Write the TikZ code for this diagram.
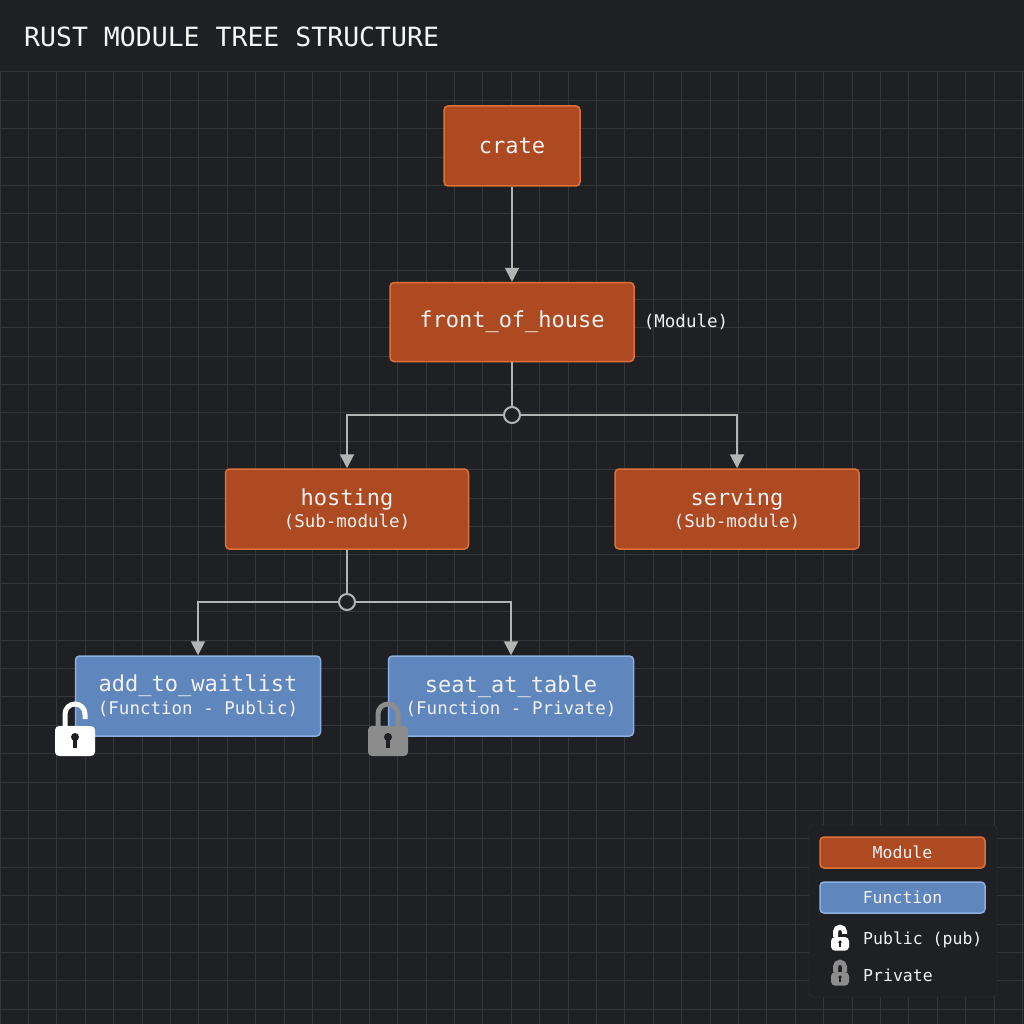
\documentclass[tikz,border=0pt]{standalone}
\usepackage{fontspec}
\setmonofont{DejaVu Sans Mono}
\usetikzlibrary{arrows.meta}
\definecolor{bg}{HTML}{1F2023}
\definecolor{gridc}{HTML}{34373A}
\definecolor{ofill}{HTML}{AE4A22}
\definecolor{oline}{HTML}{E0703A}
\definecolor{bfill}{HTML}{5F86BD}
\definecolor{bline}{HTML}{8DB0E0}
\definecolor{conn}{HTML}{B4B4B4}
\definecolor{txt}{HTML}{F2F2F2}
\definecolor{lockg}{HTML}{8C8C8C}
\tikzset{
  mod/.style={draw=oline,fill=ofill,line width=1.5pt,rounded corners=4pt,text=txt,font=\ttfamily,align=center,inner sep=0pt},
  fun/.style={draw=bline,fill=bfill,line width=1.5pt,rounded corners=4pt,text=txt,font=\ttfamily,align=center,inner sep=0pt},
  con/.style={draw=conn,line width=2pt,-{Triangle[length=14pt,width=14pt]}},
  line/.style={draw=conn,line width=2pt},
  junc/.style={circle,draw=conn,line width=2pt,fill=bg,minimum size=16pt,inner sep=0pt},
  lbl/.style={text=txt,font=\ttfamily},
  big/.style={font=\ttfamily\fontsize{22}{26}\selectfont},
  pics/lock/.style args={#1/#2/#3}{code={
    \begin{scope}[scale=#3]
    \ifnum#2=1
      \draw[#1,line width=5pt] (-10,-2) -- (-10,-14) arc[start angle=180,end angle=360,radius=10] -- (10,-9);
    \else
      \draw[#1,line width=5pt] (-10,-2) -- (-10,-14) arc[start angle=180,end angle=360,radius=10] -- (10,-2);
    \fi
    \fill[#1,rounded corners=4pt] (-20,-2) rectangle (20,28);
    \fill[bg] (0,9) circle[radius=4];
    \fill[bg] (-2,9) rectangle (2,20);
    \end{scope}
  }}
}
\newcommand{\twol}[2]{\fontsize{22}{22}\selectfont #1\\[3pt]\fontsize{17.5}{18}\selectfont #2}
\begin{document}
\begin{tikzpicture}[x=1pt,y=-1pt]
\useasboundingbox (0,0) rectangle (1024,1024);
\fill[bg] (0,0) rectangle (1024,1024);
\foreach \i in {0,...,36} {
  \draw[gridc,line width=1pt] ({28.4*\i},72) -- ({28.4*\i},1024);
}
\foreach \j in {0,...,33} {
  \draw[gridc,line width=1pt] (0,{72+28.4*\j}) -- (1024,{72+28.4*\j});
}
\node[anchor=west,text=txt!80,inner sep=0pt,font=\ttfamily\fontsize{26.5}{26.5}\selectfont] (title) at (24,37) {RUST MODULE TREE STRUCTURE};

\node[mod,big,minimum width=136pt,minimum height=80pt] (crate) at (512,146) {crate};
\node[mod,big,minimum width=244pt,minimum height=79pt] (foh) at (512,322) {front\_of\_house};
\node[lbl,font=\ttfamily\fontsize{17.5}{18}\selectfont] (modl) at (686,322) {(Module)};
\node[junc] (j1) at (512,415) {};
\node[mod,minimum width=243pt,minimum height=80pt] (host) at (347,509) {\twol{hosting}{(Sub-module)}};
\node[mod,minimum width=244pt,minimum height=80pt] (serv) at (737,509) {\twol{serving}{(Sub-module)}};
\node[junc] (j2) at (347,602) {};
\node[fun,minimum width=245pt,minimum height=80pt] (add) at (198,696) {\twol{add\_to\_waitlist}{(Function - Public)}};
\node[fun,minimum width=245pt,minimum height=80pt] (seat) at (511,696) {\twol{seat\_at\_table}{(Function - Private)}};

\draw[con] (crate) -- (foh);
\draw[line] (foh) -- (j1);
\draw[con] (j1.west) -| (host.north);
\draw[con] (j1.east) -| (serv.north);
\draw[line] (host) -- (j2);
\draw[con] (j2.west) -| (add.north);
\draw[con] (j2.east) -| (seat.north);

\pic at (75,728) {lock={white/1/1}};
\pic at (388,728) {lock={lockg/0/1}};

% legend
\node[draw=gridc,fill=bg,rounded corners=4pt,minimum width=188pt,minimum height=172pt,inner sep=0pt] (leg) at (903,911) {};
\node[mod,minimum width=165pt,minimum height=31pt,font=\ttfamily\fontsize{16.5}{17}\selectfont] (lm) at (902.5,852.5) {Module};
\node[fun,minimum width=165pt,minimum height=31pt,font=\ttfamily\fontsize{16.5}{17}\selectfont] (lf) at (902.5,897.5) {Function};
\pic at (840,938) {lock={white/1/0.45}};
\pic at (840,973) {lock={lockg/0/0.45}};
\node[lbl,anchor=west,inner sep=0pt,font=\ttfamily\fontsize{16.5}{17}\selectfont] (lp) at (863,940) {Public (pub)};
\node[lbl,anchor=west,inner sep=0pt,font=\ttfamily\fontsize{16.5}{17}\selectfont] (lr) at (863,975) {Private};
\end{tikzpicture}
\end{document}
